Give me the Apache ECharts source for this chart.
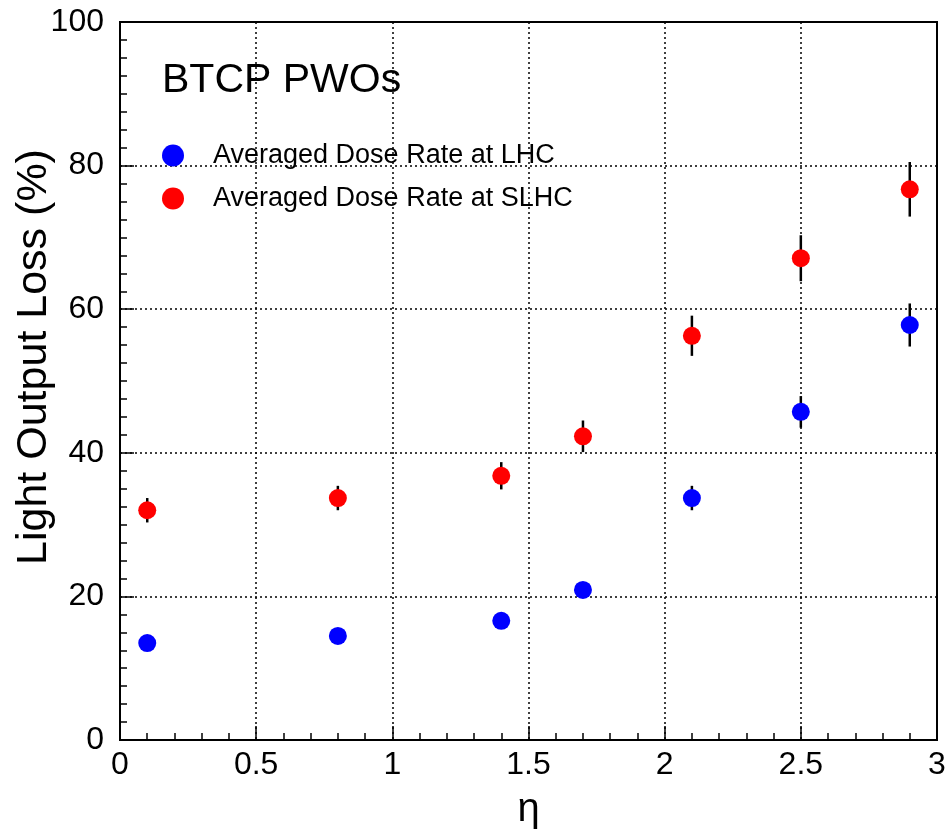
<!DOCTYPE html>
<html>
<head>
<meta charset="utf-8">
<script src="https://cdn.jsdelivr.net/npm/echarts@6/dist/echarts.min.js"></script>
<style>html,body{margin:0;padding:0;background:#fff}#c{width:947px;height:834px}</style>
</head>
<body>
<div id="c"></div>
<script>
const eta = [0.1, 0.8, 1.4, 1.7, 2.1, 2.5, 2.9];
const lhcLoss = [13.5, 14.5, 16.6, 20.9, 33.7, 45.7, 57.8];
const lhcErr = [0.8, 0.9, 1.0, 1.1, 1.7, 2.2, 3.0];
const slhcLoss = [32.0, 33.7, 36.8, 42.3, 56.3, 67.1, 76.7];
const slhcErr = [1.7, 1.7, 1.9, 2.2, 2.8, 3.2, 3.8];
const xTicks = ['0', '0.5', '1', '1.5', '2', '2.5', '3'];
const yTicks = ['0', '20', '40', '60', '80', '100'];
const seriesNames = ['Averaged Dose Rate at LHC', 'Averaged Dose Rate at SLHC'];
const yTitle = 'Light Output Loss (%)';

const font = '"Liberation Sans", Arial, Helvetica, sans-serif';

function errData(x, y, e) { return x.map((v, i) => [v, y[i] - e[i], y[i] + e[i]]); }
function errSeries(data) {
  return {
    type: 'custom', silent: true, z: 3,
    renderItem: function (params, api) {
      const p1 = api.coord([api.value(0), api.value(1)]);
      const p2 = api.coord([api.value(0), api.value(2)]);
      return { type: 'line', shape: { x1: p1[0], y1: p1[1], x2: p2[0], y2: p2[1] },
        style: { stroke: '#000', lineWidth: 2.5 } };
    },
    data: data
  };
}

const chart = echarts.init(document.getElementById('c'), null, { renderer: 'canvas' });
chart.setOption({
  backgroundColor: '#fff',
  animation: false,
  textStyle: { fontFamily: font },
  grid: { left: 120, right: 10, top: 22, bottom: 94, containLabel: false, outerBoundsMode: 'none',
    show: true, borderColor: '#000', borderWidth: 2, backgroundColor: 'transparent' },
  title: { text: 'BTCP PWOs', left: 157, top: 55, textStyle: { fontFamily: font, fontSize: 41, fontWeight: 'normal', color: '#000' } },
  graphic: [{
    type: 'text', x: 34, y: 357, rotation: Math.PI / 2,
    style: { text: yTitle, font: '43px ' + font, fill: '#000', textAlign: 'center', textVerticalAlign: 'middle' }
  }],
  legend: {
    orient: 'vertical', left: 157, top: 137, itemWidth: 22, itemHeight: 22, itemGap: 16,
    icon: 'circle',
    data: seriesNames,
    textStyle: { fontFamily: font, fontSize: 27, color: '#000', padding: [0, 0, 0, 24] }
  },
  xAxis: {
    type: 'value', min: 0, max: 3, interval: 0.5,
    name: 'η', nameLocation: 'middle', nameGap: 50,
    nameTextStyle: { fontFamily: font, fontSize: 40, color: '#000' },
    axisLine: { show: true, onZero: false, lineStyle: { color: '#000', width: 2 } },
    axisTick: { show: true, inside: true, length: 14, lineStyle: { color: '#000', width: 1.5 } },
    minorTick: { show: true, splitNumber: 5, length: 7, lineStyle: { color: '#000', width: 1.5 } },
    axisLabel: { margin: 9, fontSize: 32, color: '#000', fontFamily: font,
      formatter: v => xTicks[Math.round(v / 0.5)] },
    splitLine: { show: true, lineStyle: { color: '#000', type: [2, 3], width: 1.5 } }
  },
  yAxis: {
    type: 'value', min: 0, max: 100, interval: 20,
    axisLine: { show: true, onZero: false, lineStyle: { color: '#000', width: 2 } },
    axisTick: { show: true, inside: true, length: 14, lineStyle: { color: '#000', width: 1.5 } },
    minorTick: { show: true, splitNumber: 8, length: 7, lineStyle: { color: '#000', width: 1.5 } },
    axisLabel: { margin: 16, fontSize: 32, color: '#000', fontFamily: font,
      formatter: v => yTicks[Math.round(v / 20)] },
    splitLine: { show: true, lineStyle: { color: '#000', type: [2, 3], width: 1.5 } }
  },
  series: [
    errSeries(errData(eta, lhcLoss, lhcErr)),
    errSeries(errData(eta, slhcLoss, slhcErr)),
    { name: seriesNames[0], type: 'scatter', symbol: 'circle', symbolSize: 18, z: 5,
      itemStyle: { color: '#0000ff', opacity: 1 }, data: eta.map((x, i) => [x, lhcLoss[i]]) },
    { name: seriesNames[1], type: 'scatter', symbol: 'circle', symbolSize: 18, z: 5,
      itemStyle: { color: '#ff0000', opacity: 1 }, data: eta.map((x, i) => [x, slhcLoss[i]]) }
  ]
});
</script>
</body>
</html>
